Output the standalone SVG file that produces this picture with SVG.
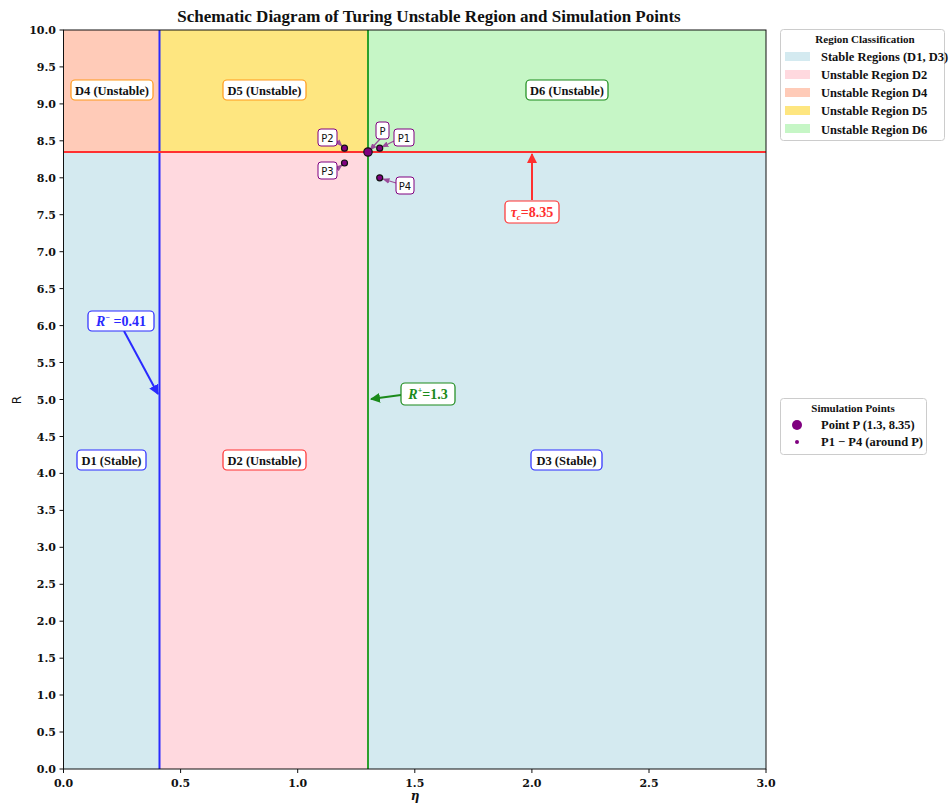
<svg xmlns="http://www.w3.org/2000/svg" width="949" height="805" viewBox="0 0 949 805">
<defs>
<style>
.tick{font-family:"DejaVu Serif",serif;font-weight:bold;font-size:11px;fill:#111}
.lbl{font-family:"Liberation Serif",serif;font-weight:bold;font-size:12.5px;fill:#111}
.leg{font-family:"Liberation Serif",serif;font-weight:bold;font-size:12.5px;fill:#111}
.pl{font-family:"DejaVu Sans",sans-serif;font-size:10px;fill:#111}
.pbox{fill:#fff;stroke:#800080;stroke-width:1}
.rbox{fill:#fff;stroke-width:1.2}
.pa{stroke:#9b4d9b;stroke-width:1.2;fill:none}
</style>
<marker id="ap" viewBox="0 0 10 10" refX="9" refY="5" markerWidth="6" markerHeight="6" orient="auto"><path d="M0,1 L10,5 L0,9 z" fill="#9b4d9b"/></marker>
<marker id="ab" viewBox="0 0 10 10" refX="9" refY="5" markerWidth="5" markerHeight="5" orient="auto"><path d="M0,0 L10,5 L0,10 z" fill="#2a2aff"/></marker>
<marker id="ag" viewBox="0 0 10 10" refX="9" refY="5" markerWidth="5" markerHeight="5" orient="auto"><path d="M0,0 L10,5 L0,10 z" fill="#1a8a1a"/></marker>
<marker id="ar" viewBox="0 0 10 10" refX="9" refY="5" markerWidth="5" markerHeight="5" orient="auto"><path d="M0,0 L10,5 L0,10 z" fill="#ff3030"/></marker>
</defs>
<rect width="949" height="805" fill="#fff"/>
<text x="429" y="22" text-anchor="middle" style="font-family:'Liberation Serif',serif;font-weight:bold;font-size:17px;fill:#111">Schematic Diagram of Turing Unstable Region and Simulation Points</text>

<g id="regions">
<rect x="63.5" y="152" width="702.5" height="617" fill="#d4eaf0"/>
<rect x="159.5" y="152" width="208.5" height="617" fill="#ffd9df"/>
<rect x="63.5" y="30" width="96" height="122" fill="#ffcbb8"/>
<rect x="159.5" y="30" width="208.5" height="122" fill="#fee680"/>
<rect x="368" y="30" width="398" height="122" fill="#c6f6c6"/>
</g>

<g id="lines">
<line x1="159.5" y1="30" x2="159.5" y2="769" stroke="#2a2aff" stroke-width="2"/>
<line x1="368" y1="30" x2="368" y2="769" stroke="#2ca02c" stroke-width="2"/>
<line x1="63.5" y1="152" x2="766" y2="152" stroke="#ff3030" stroke-width="2"/>
</g>

<g id="axes" stroke="#111" stroke-width="1">
<rect x="63.5" y="30" width="702.5" height="739" fill="none"/>
<path d="M63.5,769v4M180.6,769v4M297.7,769v4M414.8,769v4M531.9,769v4M649,769v4M766,769v4" fill="none"/>
<path d="M63.5,769h-4M63.5,732h-4M63.5,695h-4M63.5,658.2h-4M63.5,621.2h-4M63.5,584.3h-4M63.5,547.3h-4M63.5,510.4h-4M63.5,473.4h-4M63.5,436.5h-4M63.5,399.5h-4M63.5,362.5h-4M63.5,325.6h-4M63.5,288.6h-4M63.5,251.7h-4M63.5,214.7h-4M63.5,177.8h-4M63.5,140.8h-4M63.5,103.9h-4M63.5,66.9h-4M63.5,30h-4" fill="none"/>
</g>
<g id="xticks" text-anchor="middle">
<text class="tick" x="63.5" y="787">0.0</text>
<text class="tick" x="180.6" y="787">0.5</text>
<text class="tick" x="297.7" y="787">1.0</text>
<text class="tick" x="414.8" y="787">1.5</text>
<text class="tick" x="531.9" y="787">2.0</text>
<text class="tick" x="649" y="787">2.5</text>
<text class="tick" x="766" y="787">3.0</text>
</g>
<g id="yticks" text-anchor="end">
<text class="tick" x="56" y="773">0.0</text>
<text class="tick" x="56" y="736">0.5</text>
<text class="tick" x="56" y="699">1.0</text>
<text class="tick" x="56" y="662.2">1.5</text>
<text class="tick" x="56" y="625.2">2.0</text>
<text class="tick" x="56" y="588.3">2.5</text>
<text class="tick" x="56" y="551.3">3.0</text>
<text class="tick" x="56" y="514.4">3.5</text>
<text class="tick" x="56" y="477.4">4.0</text>
<text class="tick" x="56" y="440.5">4.5</text>
<text class="tick" x="56" y="403.5">5.0</text>
<text class="tick" x="56" y="366.5">5.5</text>
<text class="tick" x="56" y="329.6">6.0</text>
<text class="tick" x="56" y="292.6">6.5</text>
<text class="tick" x="56" y="255.7">7.0</text>
<text class="tick" x="56" y="218.7">7.5</text>
<text class="tick" x="56" y="181.8">8.0</text>
<text class="tick" x="56" y="144.8">8.5</text>
<text class="tick" x="56" y="107.9">9.0</text>
<text class="tick" x="56" y="70.9">9.5</text>
<text class="tick" x="56" y="34">10.0</text>
</g>
<text x="21" y="400" transform="rotate(-90 21 400)" text-anchor="middle" style="font-family:'DejaVu Sans',sans-serif;font-size:12px;fill:#111">R</text>
<text x="415" y="800" text-anchor="middle" style="font-family:'DejaVu Serif',serif;font-style:italic;font-weight:bold;font-size:12px;fill:#111">η</text>

<g id="D4"><rect class="rbox" x="71" y="80" width="82" height="20" rx="4" stroke="#ff9a1a"/><text class="lbl" x="112" y="94.5" text-anchor="middle">D4 (Unstable)</text></g>
<g id="D5"><rect class="rbox" x="223" y="80" width="83" height="20" rx="4" stroke="#ff9a1a"/><text class="lbl" x="264.5" y="94.5" text-anchor="middle">D5 (Unstable)</text></g>
<g id="D6"><rect class="rbox" x="526" y="80" width="82" height="20" rx="4" stroke="#1a8a1a"/><text class="lbl" x="567" y="94.5" text-anchor="middle">D6 (Unstable)</text></g>
<g id="D1"><rect class="rbox" x="77" y="450" width="69" height="20" rx="4" stroke="#2a2aff"/><text class="lbl" x="111.5" y="464.5" text-anchor="middle">D1 (Stable)</text></g>
<g id="D2"><rect class="rbox" x="223" y="450" width="83" height="20" rx="4" stroke="#ff3030"/><text class="lbl" x="264.5" y="464.5" text-anchor="middle">D2 (Unstable)</text></g>
<g id="D3"><rect class="rbox" x="531" y="450" width="71" height="20" rx="4" stroke="#2a2aff"/><text class="lbl" x="566.5" y="464.5" text-anchor="middle">D3 (Stable)</text></g>

<g id="connectors">
<line x1="124" y1="331" x2="158" y2="394" stroke="#2a2aff" stroke-width="2" marker-end="url(#ab)"/>
<line x1="401" y1="395" x2="371" y2="399" stroke="#1a8a1a" stroke-width="2" marker-end="url(#ag)"/>
<line x1="532" y1="200" x2="532" y2="154" stroke="#ff3030" stroke-width="2" marker-end="url(#ar)"/>
<line x1="380" y1="139" x2="370" y2="150" class="pa" marker-end="url(#ap)"/>
<line x1="394" y1="141" x2="382" y2="147" class="pa" marker-end="url(#ap)"/>
<line x1="337" y1="141" x2="342" y2="146" class="pa" marker-end="url(#ap)"/>
<line x1="337" y1="169" x2="342" y2="165" class="pa" marker-end="url(#ap)"/>
<line x1="396" y1="183" x2="383" y2="179" class="pa" marker-end="url(#ap)"/>
</g>

<g id="Rminus"><rect class="rbox" x="88" y="311" width="66" height="20" rx="4" stroke="#2a2aff"/><text x="121" y="326" text-anchor="middle" style="font-family:'Liberation Serif',serif;font-weight:bold;font-size:14px;fill:#2a2aff"><tspan font-style="italic">R</tspan><tspan dy="-6" font-size="8">−</tspan><tspan dy="6"> =0.41</tspan></text></g>
<g id="Rplus"><rect class="rbox" x="401" y="383" width="54" height="22" rx="4" stroke="#1a8a1a"/><text x="428" y="399" text-anchor="middle" style="font-family:'Liberation Serif',serif;font-weight:bold;font-size:14px;fill:#1a8a1a"><tspan font-style="italic">R</tspan><tspan dy="-6" font-size="8">+</tspan><tspan dy="6">=1.3</tspan></text></g>
<g id="tau"><rect class="rbox" x="505" y="201" width="54" height="22" rx="4" stroke="#ff3030"/><text x="532" y="217" text-anchor="middle" style="font-family:'Liberation Serif',serif;font-weight:bold;font-size:14px;fill:#ff3030"><tspan font-style="italic">τ</tspan><tspan dy="3" font-size="9" font-style="italic">c</tspan><tspan dy="-3">=8.35</tspan></text></g>

<g id="points" stroke="#111" stroke-width="1.2" fill="#800080">
<circle cx="368" cy="152" r="4.2"/>
<circle cx="379.7" cy="148.2" r="3"/>
<circle cx="344.5" cy="148.2" r="3"/>
<circle cx="344.5" cy="163" r="3"/>
<circle cx="379.7" cy="177.8" r="3"/>
</g>
<g id="P"><rect class="pbox" x="376" y="122" width="13" height="17" rx="3"/><text class="pl" x="382.5" y="134.5" text-anchor="middle">P</text></g>
<g id="P1"><rect class="pbox" x="394" y="129" width="20" height="17" rx="3"/><text class="pl" x="404" y="141.5" text-anchor="middle">P1</text></g>
<g id="P2"><rect class="pbox" x="318" y="129" width="19" height="17" rx="3"/><text class="pl" x="327.5" y="141.5" text-anchor="middle">P2</text></g>
<g id="P3"><rect class="pbox" x="318" y="162" width="19" height="17" rx="3"/><text class="pl" x="327.5" y="174.5" text-anchor="middle">P3</text></g>
<g id="P4"><rect class="pbox" x="396" y="177" width="18" height="17" rx="3"/><text class="pl" x="405" y="189.5" text-anchor="middle">P4</text></g>

<g id="legend1">
<rect x="780.5" y="29.5" width="164" height="111" rx="3" fill="#fff" stroke="#ccc"/>
<text x="865" y="43" text-anchor="middle" style="font-family:'Liberation Serif',serif;font-weight:bold;font-size:11px;fill:#111">Region Classification</text>
<rect x="785" y="52" width="25" height="9" fill="#d4eaf0"/><text class="leg" x="821" y="61">Stable Regions (D1, D3)</text>
<rect x="785" y="70" width="25" height="9" fill="#ffd9df"/><text class="leg" x="821" y="79">Unstable Region D2</text>
<rect x="785" y="88" width="25" height="9" fill="#ffcbb8"/><text class="leg" x="821" y="97">Unstable Region D4</text>
<rect x="785" y="106" width="25" height="9" fill="#fee680"/><text class="leg" x="821" y="115">Unstable Region D5</text>
<rect x="785" y="124" width="25" height="9" fill="#c6f6c6"/><text class="leg" x="821" y="134">Unstable Region D6</text>
</g>
<g id="legend2">
<rect x="780.5" y="398.5" width="146" height="56" rx="3" fill="#fff" stroke="#ccc"/>
<text x="853" y="412" text-anchor="middle" style="font-family:'Liberation Serif',serif;font-weight:bold;font-size:11px;fill:#111">Simulation Points</text>
<circle cx="797" cy="425" r="5" fill="#800080"/><text class="leg" x="821" y="429">Point P (1.3, 8.35)</text>
<circle cx="797" cy="442" r="2" fill="#800080"/><text class="leg" x="821" y="446">P1 − P4 (around P)</text>
</g>
</svg>
